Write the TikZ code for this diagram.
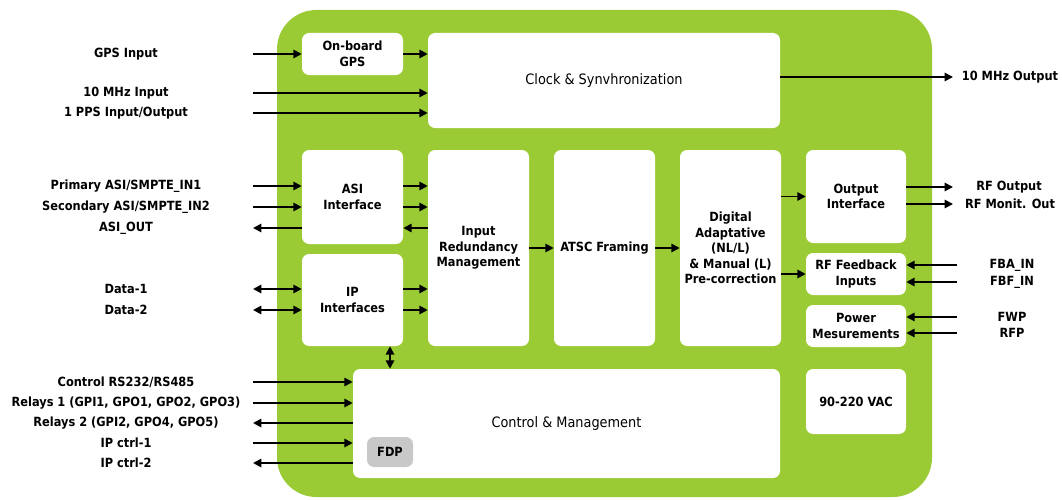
\documentclass[tikz,border=0pt]{standalone}
\usepackage{fontspec}
\setmainfont{DejaVu Sans Condensed}
\usetikzlibrary{arrows.meta}
\definecolor{boardgreen}{RGB}{154,202,52}
\definecolor{fdpgray}{RGB}{200,200,200}
\newcommand\lblfont{\fontsize{9}{11}\selectfont}
\newcommand\bigfont{\fontsize{10.2}{12}\selectfont}

\begin{document}
\begin{tikzpicture}[x=0.025cm, y=-0.025cm, font=\bfseries\lblfont,
  blk/.style={fill=white, rounded corners=5pt, inner sep=0pt, align=center},
  sz/.style 2 args={minimum width=#1*0.025cm, minimum height=#2*0.025cm},
  arr/.style={-{Triangle[length=6pt,width=6pt]}, line width=1.3pt},
  barr/.style={{Triangle[length=6pt,width=6pt]}-{Triangle[length=6pt,width=6pt]}, line width=1.3pt},
  lbl/.style={align=center, inner sep=1pt}]

\useasboundingbox (0,0) rectangle (1062,499);

% board
\fill[boardgreen, rounded corners=28pt] (277,10) rectangle (932,497);

% blocks
\node[blk, sz={101}{42}] (gps) at (352.5,54) {On-board\\GPS};
\node[blk, sz={352}{95}, font=\mdseries\bigfont] (clock) at (604,80.5) {Clock \& Synvhronization};
\node[blk, sz={101}{94}] (asi) at (352.5,197) {ASI\\Interface};
\node[blk, sz={101}{92}] (ip) at (352.5,300) {IP\\Interfaces};
\node[blk, sz={101}{196}] (redund) at (478.5,248) {Input\\Redundancy\\Management};
\node[blk, sz={101}{196}] (atsc) at (604.5,248) {ATSC Framing};
\node[blk, sz={101}{196}] (precorr) at (730.5,248) {Digital\\Adaptative\\(NL/L)\\\& Manual (L)\\Pre-correction};
\node[blk, sz={100}{93}] (outif) at (856,196.5) {Output\\Interface};
\node[blk, sz={100}{42}] (rffb) at (856,274) {RF Feedback\\Inputs};
\node[blk, sz={100}{42}] (power) at (856,326) {Power\\Mesurements};
\node[blk, sz={427}{109}, font=\mdseries\bigfont] (ctrl) at (566.5,423.5) {Control \& Management};
\node[blk, sz={100}{65}] (vac) at (856,401.5) {90-220 VAC};
\node[blk, sz={46}{30}, fill=fdpgray] (fdp) at (390,452) {FDP};

% left side labels
\node[lbl] (lgps) at (126,54) {GPS Input};
\node[lbl] (lmhz) at (126,93) {10 MHz Input};
\node[lbl] (lpps) at (126,113) {1 PPS Input/Output};
\node[lbl] (lasia) at (126,186) {Primary ASI/SMPTE\_IN1};
\node[lbl] (lasib) at (126,207) {Secondary ASI/SMPTE\_IN2};
\node[lbl] (lasio) at (126,228) {ASI\_OUT};
\node[lbl] (ldata1) at (126,289) {Data-1};
\node[lbl] (ldata2) at (126,310) {Data-2};
\node[lbl] (lrs) at (126,382) {Control RS232/RS485};
\node[lbl] (lrel1) at (126,403) {Relays 1 (GPI1, GPO1, GPO2, GPO3)};
\node[lbl] (lrel2) at (126,423) {Relays 2 (GPI2, GPO4, GPO5)};
\node[lbl] (lipc1) at (126,443) {IP ctrl-1};
\node[lbl] (lipc2) at (126,463) {IP ctrl-2};

% right side labels
\node[lbl] (lmhzo) at (1010,77) {10 MHz Output};
\node[lbl] (lrfo) at (1009,187) {RF Output};
\node[lbl] (lrfm) at (1010,204) {RF Monit. Out};
\node[lbl] (lfba) at (1012,265) {FBA\_IN};
\node[lbl] (lfbf) at (1012,282) {FBF\_IN};
\node[lbl] (lfwp) at (1012,317) {FWP};
\node[lbl] (lrfp) at (1012,333) {RFP};

% free ends
\coordinate (gpsin) at (253,54);
\coordinate (mhzin) at (253,93);
\coordinate (ppsin) at (253,113);
\coordinate (asia) at (253,186);
\coordinate (asib) at (253,207);
\coordinate (asio) at (253,228);
\coordinate (data1) at (253,289);
\coordinate (data2) at (253,310);
\coordinate (rs) at (253,382);
\coordinate (rel1) at (253,403);
\coordinate (rel2) at (253,423);
\coordinate (ipc1) at (253,443);
\coordinate (ipc2) at (253,463);
\coordinate (mhzout) at (953,77);
\coordinate (rfout) at (953,187);
\coordinate (rfmon) at (953,204);
\coordinate (fba) at (957,265);
\coordinate (fbf) at (957,282);
\coordinate (fwp) at (957,317);
\coordinate (rfp) at (957,333);

% clock inputs and output
\draw[arr] (gpsin) -- (gpsin -| gps.west);
\draw[arr] (gps) -- (gps -| clock.west);
\draw[arr] (mhzin) -- (mhzin -| clock.west);
\draw[arr] (ppsin) -- (ppsin -| clock.west);
\draw[arr] (mhzout -| clock.east) -- (mhzout);

% transport inputs
\draw[arr] (asia) -- (asia -| asi.west);
\draw[arr] (asib) -- (asib -| asi.west);
\draw[arr] (asio -| asi.west) -- (asio);
\draw[arr] (asia -| asi.east) -- (asia -| redund.west);
\draw[arr] (asib -| asi.east) -- (asib -| redund.west);
\draw[arr] (asio -| redund.west) -- (asio -| asi.east);
\draw[barr] (data1) -- (data1 -| ip.west);
\draw[barr] (data2) -- (data2 -| ip.west);
\draw[arr] (data1 -| ip.east) -- (data1 -| redund.west);
\draw[arr] (data2 -| ip.east) -- (data2 -| redund.west);
\draw[barr] (ip.south -| fdp) -- (ctrl.north -| fdp);

% processing chain
\draw[arr] (redund) -- (atsc);
\draw[arr] (atsc) -- (precorr);
\draw[arr] (outif.west -| precorr.east) -- (outif.west);
\draw[arr] (rffb.west -| precorr.east) -- (rffb.west);
\draw[arr] (rfout -| outif.east) -- (rfout);
\draw[arr] (rfmon -| outif.east) -- (rfmon);
\draw[arr] (fba) -- (fba -| rffb.east);
\draw[arr] (fbf) -- (fbf -| rffb.east);
\draw[arr] (fwp) -- (fwp -| power.east);
\draw[arr] (rfp) -- (rfp -| power.east);

% control
\draw[arr] (rs) -- (rs -| ctrl.west);
\draw[arr] (rel1) -- (rel1 -| ctrl.west);
\draw[arr] (rel2 -| ctrl.west) -- (rel2);
\draw[arr] (ipc1) -- (ipc1 -| ctrl.west);
\draw[arr] (ipc2 -| ctrl.west) -- (ipc2);
\end{tikzpicture}
\end{document}
